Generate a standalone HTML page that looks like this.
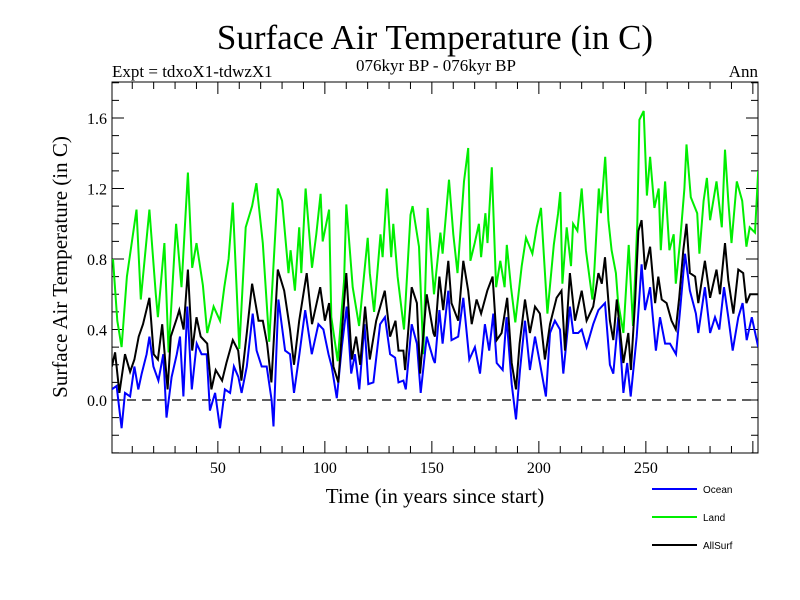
<!DOCTYPE html>
<html><head><meta charset="utf-8"><style>
body{margin:0;background:#fff;}
svg{display:block;}
text{font-family:"Liberation Serif",serif;fill:#000;}
</style></head><body>
<svg id="chart" width="800" height="600" viewBox="0 0 800 600" xmlns="http://www.w3.org/2000/svg">
<rect width="800" height="600" fill="#fff"/>
<text x="435" y="49" font-size="35" text-anchor="middle">Surface Air Temperature (in C)</text>
<text x="112" y="77" font-size="17">Expt = tdxoX1-tdwzX1</text>
<text x="436" y="71" font-size="17" text-anchor="middle">076kyr BP - 076kyr BP</text>
<text x="758" y="77" font-size="17" text-anchor="end">Ann</text>
<text x="0" y="0" font-size="21" text-anchor="middle" transform="translate(67,267) rotate(-90)">Surface Air Temperature (in C)</text>
<text x="435" y="503" font-size="21" text-anchor="middle">Time (in years since start)</text>
<g id="axes"></g>
<g id="series"></g>
<g id="legend"></g>
</svg>
<script>
const xTicks=[50,100,150,200,250];
const yTicks=[0.0,0.4,0.8,1.2,1.6];
const yTickLabels=["0.0","0.4","0.8","1.2","1.6"];
const seriesNames=["Ocean","Land","AllSurf"];
const landYears=[1,3,5,7.5,12,14,18,21,22,25,27,30.5,33,36,38,40,43,45,48,51,53,55,57,60,63,66,68,71,74,78,80,83,84,86,88,89,91,94,96,98,99,102,103,106,109,110,113,116,120,121,123,126,127,129,131,132,134,137,140,141,144,146,148,151,154,155,158,160,162,165,167,168,170,172,173,175,176,178,180,182,184,185,187,189,192,194,197,199,201,204,207,209,210,211,213,215,216,218,220,222,225,226,228,229,231,232.5,234,236,237,239.5,242,244,246,247,249,250.5,252,254,256,257,259,261,263,264,266,268,269,271,274,275,277,278.5,280,283,285.5,287,288.5,290,292.5,295,297,298.5,301,302.5];
const landVals=[0.8,0.45,0.3,0.7,1.08,0.57,1.08,0.6,0.47,0.89,0.27,1.0,0.64,1.29,0.75,0.89,0.65,0.38,0.53,0.45,0.64,0.8,1.12,0.29,0.98,1.1,1.23,0.89,0.33,1.2,1.13,0.72,0.85,0.62,0.98,0.72,1.2,0.75,0.94,1.17,0.9,1.08,0.47,0.22,0.68,1.11,0.64,0.42,0.92,0.72,0.5,0.94,0.81,1.2,0.81,1.0,0.7,0.4,1.05,1.1,0.87,0.26,1.09,0.6,0.95,0.83,1.25,0.94,0.72,1.24,1.43,0.79,0.89,1.0,0.81,1.06,0.89,1.32,0.64,0.79,0.64,0.88,0.64,0.44,0.76,0.92,0.83,0.98,1.09,0.49,0.88,1.06,1.18,0.66,0.98,0.76,1.0,0.96,1.2,0.85,0.57,0.75,1.2,1.06,1.38,1.02,0.85,0.72,0.56,0.38,0.88,0.42,1.0,1.59,1.64,1.16,1.38,1.09,1.2,0.85,1.24,0.85,0.94,0.66,0.9,1.2,1.45,1.15,1.06,0.83,1.13,1.26,1.02,1.24,0.98,1.42,1.13,0.89,1.24,1.13,0.87,0.98,0.95,1.3];
const allYears=[0.5,2,4,6.6,9,11,13,15,18,20,22,24,26.5,28,31,32,34,36,38,40,42,45,47,49,52,54,57,59.5,61,63.5,66,69,71,73,75,78,81,83.7,85.6,88,91.5,94,97.8,100,102,104,106.3,108.7,110,112.6,114.6,116.5,118.8,121,124,128,130.5,133,134.4,136.7,137.5,140.6,143,144.5,147.6,150.7,151.4,153.5,155.3,157.7,159.2,162.3,164.7,167,168.6,170.9,173,175.9,178.4,180.3,182.6,185.2,187.3,189.3,191,193.5,195.8,198.2,200.5,202.8,205.2,208.3,210.6,212.2,214.5,216.9,220,222.3,225.4,227.8,229.4,230.9,233.2,234.8,236.4,239.5,241.8,243,245,246.5,248,249.6,252,254.3,255.8,257.4,259.7,262,264,265.6,267.5,269,270.6,273,274.5,277.6,280,283,284.6,287,288.5,290.9,293.2,295.5,297,298.7,302.5];
const allVals=[0.19,0.27,0.04,0.26,0.16,0.23,0.36,0.43,0.58,0.26,0.23,0.43,0.06,0.36,0.47,0.51,0.4,0.74,0.28,0.47,0.36,0.32,0.06,0.17,0.11,0.21,0.34,0.28,0.11,0.38,0.66,0.45,0.45,0.32,0.1,0.74,0.62,0.4,0.2,0.45,0.72,0.43,0.64,0.45,0.55,0.19,0.1,0.51,0.72,0.23,0.36,0.2,0.53,0.23,0.45,0.62,0.36,0.45,0.28,0.28,0.17,0.64,0.55,0.15,0.6,0.38,0.36,0.7,0.51,0.79,0.55,0.45,0.79,0.62,0.43,0.57,0.49,0.62,0.7,0.34,0.38,0.58,0.21,0.06,0.32,0.57,0.38,0.53,0.49,0.23,0.43,0.58,0.62,0.28,0.72,0.45,0.62,0.45,0.53,0.72,0.66,0.81,0.45,0.34,0.57,0.21,0.38,0.17,0.57,0.96,1.02,0.74,0.87,0.55,0.7,0.57,0.55,0.45,0.4,0.58,0.85,1.0,0.72,0.7,0.55,0.79,0.58,0.74,0.6,0.89,0.68,0.49,0.74,0.72,0.55,0.6,0.6];
const oceanYears=[0.4,2.7,5,6.6,9,11,12.8,14.4,16.7,18,19.9,22.2,24.5,26,28.4,30.8,32.3,33.9,35.7,37.8,40.1,42.4,44.8,46.3,48.7,51,53.3,55.7,57.5,59.6,61.1,63.5,66.3,68.1,70.5,72.8,75.1,76,78.3,81.4,83.7,85.6,88.1,90.8,93.9,97,99.3,101.7,103.2,105.6,107.9,110.2,112.3,114.1,116.1,118.5,120.3,122.7,125.8,128.1,130.5,132.8,134.4,136.7,137.8,140.6,143,144.8,147.6,150.7,151.4,153.5,155,157.7,159.2,162.3,164.7,167.5,170.1,172.5,174.8,176.8,178.7,180.3,183.1,184.9,187.3,189.3,191.2,193.5,195.8,198.2,200.5,203.3,205.2,207.5,209.9,211.4,214.5,216.1,218.4,220,222.3,225.4,227.8,230.9,233.2,234.8,237.1,239.5,241.3,242.9,245.7,248,249.6,252,254.7,256.6,259,261.3,264.1,266,268.3,270.6,273.4,274.5,277.6,280,282.3,284.3,286.5,288.5,290.6,293.2,295.2,297.1,299.5,302.5];
const oceanVals=[0.06,0.08,-0.16,0.04,0.02,0.19,0.06,0.15,0.26,0.36,0.19,0.11,0.26,-0.1,0.13,0.26,0.36,0.02,0.53,0.06,0.32,0.26,0.26,-0.06,0.04,-0.16,0.06,0.04,0.19,0.13,0.04,0.19,0.49,0.28,0.19,0.19,0.0,-0.15,0.57,0.28,0.26,0.04,0.26,0.51,0.26,0.43,0.4,0.26,0.19,0.01,0.3,0.53,0.15,0.26,0.06,0.43,0.09,0.1,0.43,0.47,0.26,0.24,0.1,0.11,0.06,0.43,0.32,0.04,0.36,0.23,0.21,0.51,0.32,0.62,0.34,0.36,0.58,0.23,0.3,0.15,0.43,0.28,0.49,0.21,0.17,0.47,0.09,-0.11,0.17,0.45,0.17,0.36,0.21,0.02,0.38,0.45,0.4,0.15,0.53,0.38,0.38,0.4,0.3,0.43,0.51,0.55,0.2,0.15,0.47,0.04,0.21,0.02,0.36,0.77,0.51,0.64,0.28,0.47,0.32,0.32,0.26,0.51,0.83,0.62,0.49,0.38,0.64,0.38,0.47,0.4,0.64,0.47,0.28,0.47,0.55,0.34,0.47,0.3];

const L=112,R=758,T=82,B=453;
const xs=y=>113+(y-1)*2.14;
const ys=v=>400-v*176.25;
const NS="http://www.w3.org/2000/svg";
function mk(tag,attrs,parent){const e=document.createElementNS(NS,tag);for(const k in attrs)e.setAttribute(k,attrs[k]);parent.appendChild(e);return e;}
const ax=document.getElementById('axes');
// zero line
const zl=mk('line',{x1:L,x2:R,y1:ys(0),y2:ys(0),stroke:'#000','stroke-width':1.2,'stroke-dasharray':'9,6'},ax);


// minor y ticks
for(let v=-0.3;v<=1.8001;v+=0.1){
 const yy=ys(v); if(yy<T||yy>B)continue;
 const major=Math.abs(Math.round(v*10)%4)===0;
 const w=major?12:7;
 mk('line',{x1:L,x2:L+w,y1:yy,y2:yy,stroke:'#000','stroke-width':1},ax);
 mk('line',{x1:R-w,x2:R,y1:yy,y2:yy,stroke:'#000','stroke-width':1},ax);
}
yTicks.forEach((v,i)=>{
 const t=mk('text',{x:L-5,y:ys(v)+6,'font-size':16,'text-anchor':'end'},ax);
 t.textContent=yTickLabels[i];
 
 
});
for(let yr=10;yr<=300;yr+=10){
 const xx=xs(yr); if(xx>R)continue;
 const major=yr%50===0; const w=major?12:7;
 mk('line',{x1:xx,x2:xx,y1:B,y2:B-w,stroke:'#000','stroke-width':1},ax);
 mk('line',{x1:xx,x2:xx,y1:T,y2:T+w,stroke:'#000','stroke-width':1},ax);
}
xTicks.forEach(v=>{
 const t=mk('text',{x:xs(v),y:473,'font-size':16,'text-anchor':'middle'},ax);
 t.textContent=String(v);
 
 
});
const fr=mk('rect',{x:L,y:T,width:R-L,height:B-T,fill:'none',stroke:'#000','stroke-width':1},ax);



const sg=document.getElementById('series');
mk('clipPath',{id:'clip'},sg).appendChild(document.createElementNS(NS,'rect'));
const cr=sg.querySelector('#clip rect');cr.setAttribute('x',L);cr.setAttribute('y',T);cr.setAttribute('width',R-L);cr.setAttribute('height',B-T);
function draw(years,vals,color,name){
 const d=years.map((y,i)=>(i?'L':'M')+xs(y).toFixed(1)+','+ys(vals[i]).toFixed(1)).join('');
 const p=mk('path',{d:d,fill:'none',stroke:color,'stroke-width':2,'stroke-linejoin':'miter','clip-path':'url(#clip)'},sg);
 
 
}
draw(landYears,landVals,'#00ee00','land-line');
draw(oceanYears,oceanVals,'#0000ff','ocean-line');
draw(allYears,allVals,'#000000','allsurf-line');

const lg=document.getElementById('legend');
const cols=['#0000ff','#00ee00','#000000'];
seriesNames.forEach((n,i)=>{
 const y=489+i*28;
 const l=mk('line',{x1:652,x2:697,y1:y,y2:y,stroke:cols[i],'stroke-width':2},lg);
 
 
 const t=mk('text',{x:703,y:y+4,'font-size':10,style:'font-family:"Liberation Sans",sans-serif'},lg);
 t.textContent=n;
 
 
});
</script>
</body></html>
